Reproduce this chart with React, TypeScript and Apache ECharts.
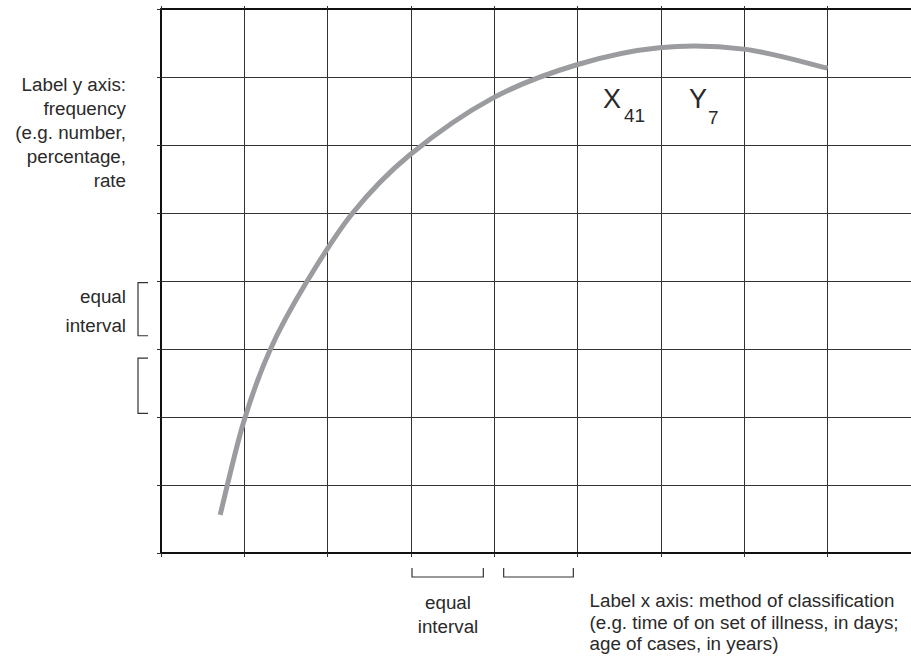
import React, { useEffect, useRef } from "react";
import * as echarts from "echarts";

// ---- data (axis units: x grid step = 1 class interval, y grid step = 1 frequency interval)
const xMin = 0;
const xMax = 9;
const yMin = 0;
const yMax = 8;
const curveX = [0.71, 0.99, 1.31, 1.74, 2.3, 2.98, 3.98, 4.99, 5.98, 6.99, 8.0];
const curveY = [0.56, 1.92, 2.99, 3.97, 5.0, 5.85, 6.69, 7.18, 7.43, 7.41, 7.13];
// annotation brackets (axis units)
const xBrackets = [
  [3.0, 3.88],
  [4.1, 4.96],
];
const yBrackets = [
  [3.99, 3.18],
  [2.88, 2.04],
];
const yLabelText = "Label y axis:\nfrequency\n(e.g. number,\npercentage,\nrate";
const xLabelText =
  "Label x axis: method of classification\n(e.g. time of on set of illness, in days;\nage of cases, in years)";
const intervalText = "equal\ninterval";

const FONT = "'Liberation Sans', Arial, sans-serif";
const TEXT_COLOR = "#2a2a2a";
const GRID_COLOR = "#333";

// Catmull-Rom spline through pixel points -> SVG path data
function splinePath(pts: number[][]): string {
  let d = `M${pts[0][0]},${pts[0][1]}`;
  for (let i = 0; i < pts.length - 1; i++) {
    const p0 = pts[Math.max(0, i - 1)];
    const p1 = pts[i];
    const p2 = pts[i + 1];
    const p3 = pts[Math.min(pts.length - 1, i + 2)];
    const c1x = p1[0] + (p2[0] - p0[0]) / 6;
    const c1y = p1[1] + (p2[1] - p0[1]) / 6;
    const c2x = p2[0] - (p3[0] - p1[0]) / 6;
    const c2y = p2[1] - (p3[1] - p1[1]) / 6;
    d += ` C${c1x},${c1y} ${c2x},${c2y} ${p2[0]},${p2[1]}`;
  }
  return d;
}

export default function App() {
  const ref = useRef<HTMLDivElement>(null);
  useEffect(() => {
    document.body.style.margin = "0";
    const chart = echarts.init(ref.current!, null, { renderer: "svg" });
    const axisCommon = {
      type: "value",
      interval: 1,
      axisLabel: { show: false },
    };
    chart.setOption({
      animation: false,
      grid: { left: 161, top: 9, width: 758, height: 544, containLabel: false },
      xAxis: [
        {
          ...axisCommon,
          min: xMin,
          max: xMax,
          position: "bottom",
          axisLine: { show: true, onZero: false, lineStyle: { color: "#111", width: 2 } },
          axisTick: { show: true, inside: false, length: 4, lineStyle: { color: GRID_COLOR, width: 1 } },
          splitLine: { show: true, lineStyle: { color: GRID_COLOR, width: 1 } },
        },
        {
          ...axisCommon,
          min: xMin,
          max: xMax,
          position: "top",
          axisLine: { show: true, onZero: false, lineStyle: { color: "#111", width: 2 } },
          axisTick: { show: true, inside: false, length: 3, lineStyle: { color: GRID_COLOR, width: 1 } },
          splitLine: { show: false },
        },
      ],
      yAxis: [
        {
          ...axisCommon,
          min: yMin,
          max: yMax,
          position: "left",
          axisLine: { show: true, onZero: false, lineStyle: { color: "#111", width: 2 } },
          axisTick: { show: true, inside: false, length: 4, lineStyle: { color: GRID_COLOR, width: 1 } },
          splitLine: { show: true, lineStyle: { color: GRID_COLOR, width: 1 } },
        },
      ],
      series: [
        {
          type: "custom",
          coordinateSystem: "cartesian2d",
          xAxisIndex: 0,
          yAxisIndex: 0,
          silent: true,
          data: [[curveX[0], curveY[0]]],
          renderItem: (_params: any, api: any) => {
            const pts = curveX.map((x, i) => api.coord([x, curveY[i]]));
            return {
              type: "path",
              shape: { pathData: splinePath(pts) },
              style: { stroke: "#9b9c9f", lineWidth: 5, fill: "none", lineCap: "butt", lineJoin: "round" },
            };
          },
        },
      ],
    });

    const px = (v: number) => chart.convertToPixel({ xAxisIndex: 0 }, v) as number;
    const py = (v: number) => chart.convertToPixel({ yAxisIndex: 0 }, v) as number;
    const axisX = px(xMin);
    const axisY = py(yMin);

    const bracketStyle = { stroke: "#333", lineWidth: 1.2, fill: "none" };
    const graphics: any[] = [];
    xBrackets.forEach(([a, b]) => {
      const x1 = px(a) + 1;
      const x2 = px(b) - 1;
      graphics.push({
        type: "polyline",
        shape: { points: [[x1, axisY + 15], [x1, axisY + 24], [x2, axisY + 24], [x2, axisY + 15]] },
        style: bracketStyle,
      });
    });
    yBrackets.forEach(([a, b]) => {
      const y1 = py(a) + 1;
      const y2 = py(b) - 1;
      graphics.push({
        type: "polyline",
        shape: { points: [[axisX - 13, y1], [axisX - 23, y1], [axisX - 23, y2], [axisX - 13, y2]] },
        style: bracketStyle,
      });
    });

    const txt = (text: string, x: number, y: number, size: number, align: string, vAlign: string, lineHeight?: number) => ({
      type: "text",
      x,
      y,
      style: {
        text,
        fill: TEXT_COLOR,
        fontFamily: FONT,
        fontSize: size,
        lineHeight: lineHeight ?? size * 1.2,
        align,
        verticalAlign: vAlign,
        textAlign: align,
        textVerticalAlign: vAlign,
      },
    });

    graphics.push(txt(yLabelText, 126, 72.5, 18.8, "right", "top", 24));
    graphics.push(txt(intervalText, 126, 282.5, 18.8, "right", "top", 28.5));
    graphics.push(txt(intervalText, 448, 590, 18.8, "center", "top", 24));
    graphics.push(txt(xLabelText, 589.5, 589.5, 18.8, "left", "top", 21.7));
    graphics.push(txt("X", 603, 99, 27, "left", "middle"));
    graphics.push(txt("41", 624, 115, 19, "left", "middle"));
    graphics.push(txt("Y", 689, 99, 27, "left", "middle"));
    graphics.push(txt("7", 708, 117, 19, "left", "middle"));

    chart.setOption({ graphic: graphics });
    return () => chart.dispose();
  }, []);
  return <div ref={ref} style={{ width: 911, height: 660 }} />;
}
